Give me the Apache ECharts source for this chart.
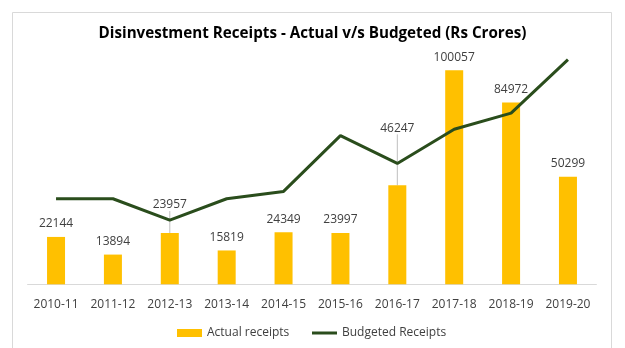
<!DOCTYPE html>
<html>
<head>
<meta charset="utf-8">
<script src="https://cdn.jsdelivr.net/npm/echarts@6/dist/echarts.min.js"></script>
<style>html,body{margin:0;padding:0;background:#fff}#c{width:625px;height:348px}</style>
</head>
<body>
<div id="c"></div>
<script>
const categories = ['2010-11','2011-12','2012-13','2013-14','2014-15','2015-16','2016-17','2017-18','2018-19','2019-20'];
const actualReceipts = [22144, 13894, 23957, 15819, 24349, 23997, 46247, 100057, 84972, 50299];
const budgetedReceipts = [40000, 40000, 30000, 40000, 43425, 69500, 56500, 72500, 80000, 105000];
const labelShift = {2: -15, 6: -44};

const barData = actualReceipts.map(function (v, i) {
  return labelShift[i] ? {value: v, labelLine: {show: true}} : v;
});

const legendText = {fontFamily: 'Open Sans', fontSize: 12, color: '#404040'};

const chart = echarts.init(document.getElementById('c'), null, {renderer: 'canvas'});
chart.setOption({
  animation: false,
  backgroundColor: '#fff',
  title: {
    text: 'Disinvestment Receipts - Actual v/s Budgeted (Rs Crores)',
    left: 'center', top: 21,
    textStyle: {fontFamily: 'Open Sans', fontWeight: 'bold', fontSize: 15.2, color: '#000'}
  },
  graphic: [{
    type: 'rect', silent: true,
    shape: {x: 12.5, y: 12.5, width: 599, height: 345},
    style: {fill: 'none', stroke: '#d9d9d9', lineWidth: 1}
  }],
  legend: [{
    bottom: 4, left: 172, itemWidth: 25, itemHeight: 8,
    textStyle: legendText,
    data: [{name: 'Actual receipts', icon: 'rect'}]
  }, {
    bottom: 4, left: 307, itemWidth: 25, itemHeight: 3,
    textStyle: legendText,
    data: [{name: 'Budgeted Receipts', icon: 'rect'}]
  }],
  grid: {left: 27.6, right: 28.6, top: 27.6, bottom: 63.7},
  xAxis: {
    type: 'category', data: categories,
    axisLine: {lineStyle: {color: '#d9d9d9'}},
    axisTick: {show: false},
    axisLabel: {fontFamily: 'Open Sans', fontSize: 12, color: '#404040', margin: 14, interval: 0}
  },
  yAxis: {type: 'value', min: 0, max: 120000, show: false, splitLine: {show: false}},
  series: [{
    name: 'Actual receipts', type: 'bar', data: barData, barWidth: 18,
    itemStyle: {color: '#FFC000'},
    label: {show: true, position: 'top', distance: 7, fontFamily: 'Open Sans', fontSize: 12, color: '#404040'},
    labelLine: {show: false, lineStyle: {color: '#bfbfbf', width: 1}},
    labelLayout: function (p) {
      const s = labelShift[p.dataIndex];
      return s ? {dy: s} : {};
    }
  }, {
    name: 'Budgeted Receipts', type: 'line', data: budgetedReceipts,
    symbol: 'none', lineStyle: {color: '#2a4d1c', width: 3},
    itemStyle: {color: '#2a4d1c'}
  }]
});
</script>
</body>
</html>
